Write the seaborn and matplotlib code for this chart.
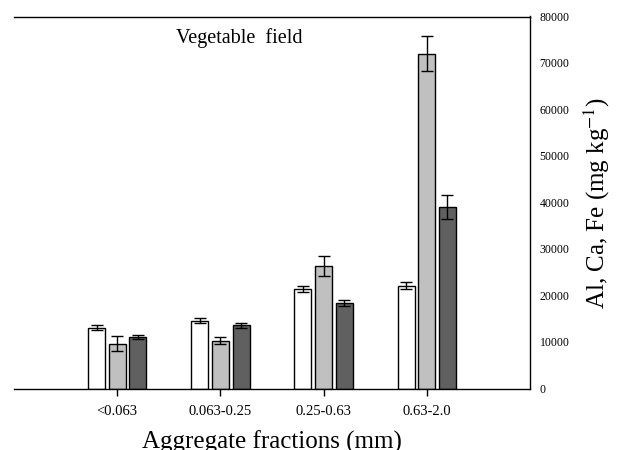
import matplotlib
matplotlib.use("Agg")
import matplotlib.pyplot as plt
import seaborn as sns
import pandas as pd

categories = ["<0.063", "0.063-0.25", "0.25-0.63", "0.63-2.0"]
elements = ["Al", "Ca", "Fe"]
al_values = [13100, 14600, 21350, 22100]
ca_values = [9600, 10300, 26300, 72000]
fe_values = [11100, 13550, 18350, 39000]
al_err = [450, 600, 700, 800]
ca_err = [1600, 800, 2200, 3800]
fe_err = [500, 600, 650, 2650]
colors = ["#ffffff", "#c0c0c0", "#606060"]

values = [al_values, ca_values, fe_values]
errors = [al_err, ca_err, fe_err]
rows = []
for e, vals in zip(elements, values):
    for c, v in zip(categories, vals):
        rows.append({"fraction": c, "element": e, "value": v})
df = pd.DataFrame(rows)

sns.set_theme(style="white")
plt.rcParams["font.family"] = ["Liberation Serif", "DejaVu Serif"]
plt.rcParams["mathtext.fontset"] = "stix"

fig = plt.figure(figsize=(6.17, 4.5), dpi=100)
ax = fig.add_axes([14 / 617, 1 - 388.5 / 450, (530 - 14) / 617, (388.5 - 16.5) / 450])

sns.barplot(data=df, x="fraction", y="value", hue="element", order=categories,
            hue_order=elements, palette=colors, width=0.6, gap=0.18,
            edgecolor="black", linewidth=1.0, legend=False, errorbar=None,
            saturation=1, ax=ax)

for cont, errs in zip(ax.containers, errors):
    xs = [b.get_x() + b.get_width() / 2 for b in cont]
    hs = [b.get_height() for b in cont]
    ax.errorbar(xs, hs, yerr=errs, fmt="none", ecolor="black",
                elinewidth=1.0, capsize=4.5, capthick=1.0)

ax.set_xlim(-1, 4)
ax.set_ylim(0, 80000)
ax.set_yticks(range(0, 80001, 10000))
ax.yaxis.tick_right()
ax.yaxis.set_label_position("right")
ax.tick_params(axis="y", length=0, pad=7, labelsize=8.5, colors="black")
ax.tick_params(axis="x", direction="out", length=5, width=1, pad=7,
               labelsize=10.5, colors="black", bottom=True)

for side in ["top", "right", "bottom"]:
    ax.spines[side].set_visible(True)
    ax.spines[side].set_color("black")
    ax.spines[side].set_linewidth(1.0)
ax.spines["left"].set_visible(False)

ax.set_xlabel("Aggregate fractions (mm)", fontsize=18, labelpad=9, color="black")
ax.set_ylabel(r"Al, Ca, Fe (mg kg$^{-1}$)", fontsize=18, labelpad=9, color="black")

ax.text(0.437, 0.943, "Vegetable  field", transform=ax.transAxes, ha="center",
        va="center", fontsize=14.5, color="black")

fig.savefig("out.png", dpi=100)
